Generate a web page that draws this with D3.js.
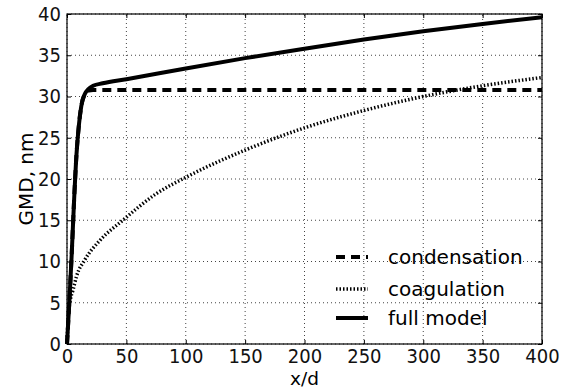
<!DOCTYPE html>
<html>
<head>
<meta charset="utf-8">
<style>
    body { margin: 0; background: #fff; }
    svg { font-family: "DejaVu Sans", sans-serif; }
    .tick text { font-family: "DejaVu Sans Condensed", "DejaVu Sans", sans-serif; font-stretch: condensed; font-size: 20px; fill: #111; }
    .domain { display: none; }
    .grid line { stroke: #444; stroke-width: 1; stroke-dasharray: 1,3; }
</style>
</head>
<body>
<svg width="565" height="390"></svg>
<script src="https://d3js.org/d3.v7.min.js"></script>
<script>
    // values: [x/d, GMD nm]
    let condensation = [[0,0],[2,5.2],[4,11],[6,17.5],[8,23],[10,26.5],[12,28.8],[15,30.3],[18,30.7],[22,30.8],[100,30.8],[400,30.8]]
    let coagulation = [[0,0],[1,3.2],[3,5.5],[5,6.5],[8,8.2],[15,10.2],[28,12.6],[47,15],[75,18.2],[100,20.2],[150,23.5],[200,26.2],[250,28.3],[300,30],[350,31.3],[400,32.3]]
    let fullModel = [[0,0],[2,5.2],[4,11],[6,17.5],[8,23],[10,26.5],[12,28.8],[15,30.3],[18,30.9],[22,31.3],[30,31.6],[50,32.1],[100,33.4],[150,34.65],[200,35.8],[250,36.9],[300,37.9],[350,38.8],[400,39.6]]

    let xTicks = [0, 50, 100, 150, 200, 250, 300, 350, 400]
    let yTicks = [0, 5, 10, 15, 20, 25, 30, 35, 40]

    let seriesNames = ["condensation", "coagulation", "full model"]
    let seriesData = [condensation, coagulation, fullModel]
    let seriesDash = ["9,6", "1.5,2", null]

    let margin = { top: 14, right: 23, bottom: 46, left: 67 }
    let width = 565, height = 390

    let svg = d3.select("svg")

    let x = d3.scaleLinear().domain([0, 400]).range([margin.left, width - margin.right])
    let y = d3.scaleLinear().domain([0, 40]).range([height - margin.bottom, margin.top])

    // grid
    let grid = svg.append("g").attr("class", "grid")
    grid.selectAll(".gx").data(xTicks).join("line")
        .attr("x1", d => x(d)).attr("x2", d => x(d))
        .attr("y1", y(0)).attr("y2", y(40))
    grid.selectAll(".gy").data(yTicks).join("line")
        .attr("y1", d => y(d)).attr("y2", d => y(d))
        .attr("x1", x(0)).attr("x2", x(400))

    // lines
    let line = d3.line()
        .x(d => x(d[0]))
        .y(d => y(d[1]))
        .curve(d3.curveMonotoneX)

    let plot = svg.append("g")
    seriesData.forEach((s, i) => {
        plot.append("path")
            .datum(s)
            .attr("fill", "none")
            .attr("stroke", "#000")
            .attr("stroke-width", i == 1 ? 3.5 : 4)
            .attr("stroke-dasharray", seriesDash[i])
            .attr("d", line)
    })

    // axes, ticks pointing inward
    svg.append("g")
        .attr("transform", `translate(0,${y(0)})`)
        .call(d3.axisBottom(x).tickValues(xTicks).tickSizeInner(-4).tickSizeOuter(0).tickPadding(4.5))
    svg.append("g")
        .attr("transform", `translate(${x(0)},0)`)
        .call(d3.axisLeft(y).tickValues(yTicks).tickSizeInner(-4).tickSizeOuter(0).tickPadding(6))
    svg.append("g")
        .attr("transform", `translate(0,${y(40)})`)
        .call(d3.axisTop(x).tickValues(xTicks).tickSizeInner(-4).tickSizeOuter(0).tickFormat(""))
    svg.append("g")
        .attr("transform", `translate(${x(400)},0)`)
        .call(d3.axisRight(y).tickValues(yTicks).tickSizeInner(-4).tickSizeOuter(0).tickFormat(""))

    // frame
    svg.append("rect")
        .attr("x", x(0)).attr("y", y(40))
        .attr("width", x(400) - x(0)).attr("height", y(0) - y(40))
        .attr("fill", "none").attr("stroke", "#000").attr("stroke-width", 1.2)

    // axis labels
    svg.append("text")
        .attr("x", (x(0) + x(400)) / 2)
        .attr("y", 385)
        .attr("text-anchor", "middle")
        .style("font-size", "18.5px")
        .text("x/d")

    svg.append("text")
        .attr("transform", `translate(33,${(y(0) + y(40)) / 2}) rotate(-90)`)
        .attr("text-anchor", "middle")
        .style("font-size", "20px")
        .text("GMD, nm")

    // legend
    let legendY = [257, 289, 318]
    let legend = svg.append("g")
    seriesNames.forEach((name, i) => {
        legend.append("line")
            .attr("x1", 336).attr("x2", 368)
            .attr("y1", legendY[i]).attr("y2", legendY[i])
            .attr("stroke", "#000")
            .attr("stroke-width", i == 1 ? 3.5 : 4)
            .attr("stroke-dasharray", seriesDash[i])
        legend.append("text")
            .attr("x", 388)
            .attr("y", legendY[i] + 7)
            .style("font-size", "20px")
            .text(name)
    })
</script>
</body>
</html>
